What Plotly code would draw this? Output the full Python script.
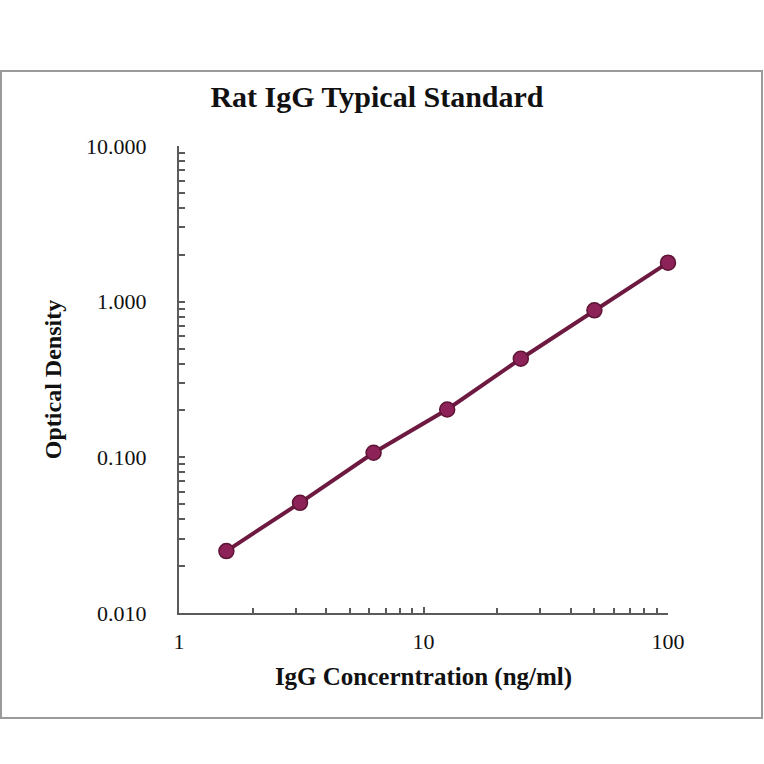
import plotly.graph_objects as go

# standard curve readings
conc = [1.5625, 3.125, 6.25, 12.5, 25, 50, 100]
od = [0.025, 0.051, 0.107, 0.203, 0.43, 0.88, 1.78]

y_major = [0.01, 0.1, 1, 10]
y_labels = ["0.010", "0.100", "1.000", "10.000"]
x_major = [1, 10, 100]
x_labels = ["1", "10", "100"]

y_minor = [m * d for d in [0.01, 0.1, 1] for m in range(2, 10)]
x_minor = [m * d for d in [1, 10] for m in range(2, 10)]

W, H = 764, 764
L, R, T, B = 179, 96, 146, 151
pw, ph = W - L - R, H - T - B

fig = go.Figure()
fig.add_trace(go.Scatter(
    x=conc, y=od, mode="lines+markers",
    line=dict(color="#6e1a40", width=4),
    marker=dict(size=15, color="#8c2257", line=dict(color="#5e1535", width=1.5)),
    cliponaxis=False,
    showlegend=False,
))

font = "Liberation Serif, Times New Roman, serif"
axis_common = dict(
    showgrid=False, zeroline=False, showline=True, linecolor="#5a5a5a", linewidth=2,
    ticks="inside", ticklen=6, tickwidth=1.5, tickcolor="#5a5a5a",
    tickfont=dict(family=font, size=22, color="#111"),
)

fig.update_xaxes(
    type="log", range=[0, 2], tickvals=x_major, ticktext=x_labels,
    minor=dict(tickvals=x_minor, ticks="inside", ticklen=5, tickcolor="#5a5a5a", tickwidth=1.5),
    title=dict(text="<b>IgG Concerntration (ng/ml)</b>", font=dict(family=font, size=25, color="#111"), standoff=14),
    ticklabelstandoff=8,
    **axis_common,
)
fig.update_yaxes(
    type="log", range=[-2, 1], tickvals=y_major, ticktext=y_labels,
    minor=dict(tickvals=y_minor, ticks="inside", ticklen=6, tickcolor="#5a5a5a", tickwidth=1.5),
    title=dict(text="<b>Optical Density</b>", font=dict(family=font, size=24, color="#111"), standoff=18),
    ticklabelstandoff=26,
    **axis_common,
)

# grey frame around the whole chart
fig.add_shape(
    type="rect", xref="paper", yref="paper",
    x0=(1 - L) / pw, x1=(762 - L) / pw,
    y0=(H - B - 718) / ph, y1=(H - B - 71) / ph,
    line=dict(color="#9a9a9a", width=2),
)

fig.update_layout(
    width=W, height=H,
    margin=dict(l=L, r=R, t=T, b=B),
    paper_bgcolor="white", plot_bgcolor="white",
    title=dict(text="<b>Rat IgG Typical Standard</b>", x=377 / W, xref="container", xanchor="center",
               y=1 - 96 / H, yanchor="middle",
               font=dict(family=font, size=30, color="#111")),
)

# drop the page's default body margin so the figure sits at the window corner
fig.write_html("out.html", config={"displayModeBar": False},
               post_script="document.body.style.margin='0';")
